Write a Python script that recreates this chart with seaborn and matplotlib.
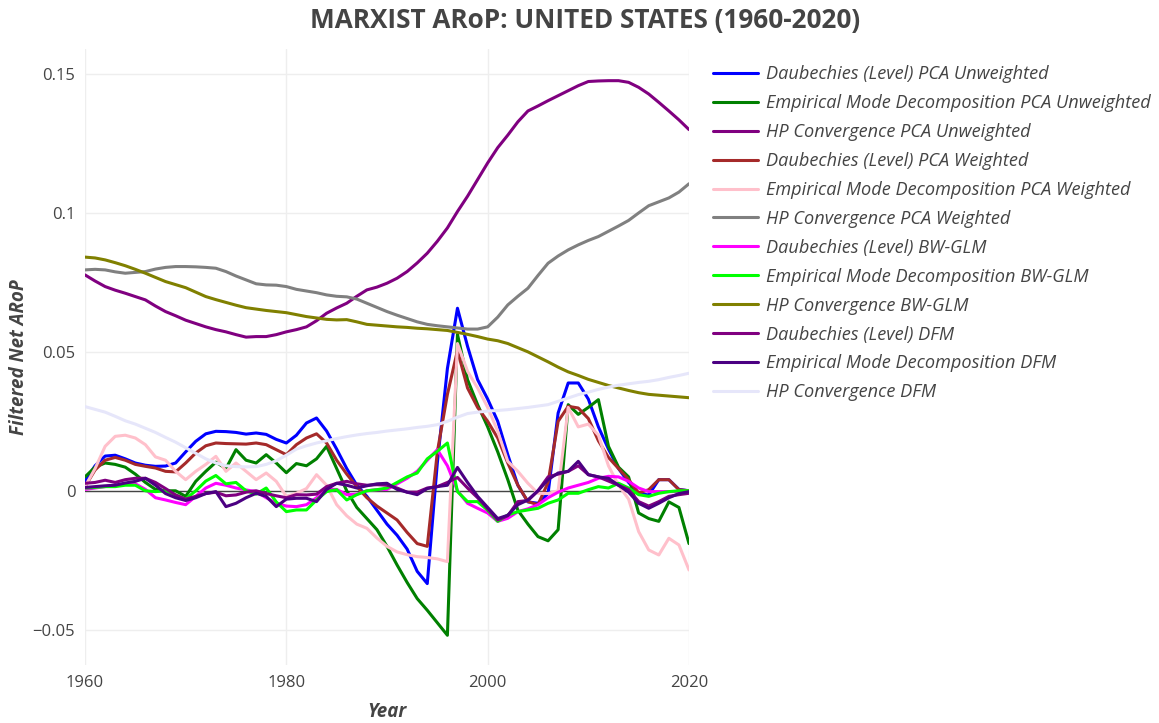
import matplotlib
matplotlib.use("Agg")
import matplotlib.pyplot as plt
import seaborn as sns
import pandas as pd

years = list(range(1960, 2021))

series_names = [
    'Daubechies (Level) PCA Unweighted',
    'Empirical Mode Decomposition PCA Unweighted',
    'HP Convergence PCA Unweighted',
    'Daubechies (Level) PCA Weighted',
    'Empirical Mode Decomposition PCA Weighted',
    'HP Convergence PCA Weighted',
    'Daubechies (Level) BW-GLM',
    'Empirical Mode Decomposition BW-GLM',
    'HP Convergence BW-GLM',
    'Daubechies (Level) DFM',
    'Empirical Mode Decomposition DFM',
    'HP Convergence DFM',
]
series_colors = ['#0000ff', '#008000', '#800080', '#a52a2a', '#ffc0cb', '#808080',
                 '#ff00ff', '#00ff00', '#808000', '#800080', '#4b0082', '#e6e6fa']

daub_pca_unw = [
    0.0035, 0.0090, 0.0125, 0.0128, 0.0115, 0.0100, 0.0092, 0.0088, 0.0089, 0.0100,
    0.0140, 0.0178, 0.0205, 0.0214, 0.0213, 0.0210, 0.0204, 0.0208, 0.0203, 0.0185,
    0.0172, 0.0200, 0.0244, 0.0262, 0.0215, 0.0150, 0.0080, 0.0020, -0.0020, -0.0070,
    -0.0120, -0.0160, -0.0210, -0.0290, -0.0334, 0.0100, 0.0440, 0.0657, 0.0520, 0.0400,
    0.0330, 0.0250, 0.0130, 0.0020, -0.0040, -0.0045, -0.0010, 0.0280, 0.0388, 0.0388,
    0.0330, 0.0230, 0.0150, 0.0080, 0.0030, -0.0010, -0.0015, 0.0040, 0.0040, 0.0005,
    0.0000,
]
emd_pca_unw = [
    0.0050, 0.0085, 0.0100, 0.0095, 0.0085, 0.0060, 0.0030, 0.0005, 0.0000, 0.0000,
    -0.0020, 0.0034, 0.0070, 0.0103, 0.0080, 0.0148, 0.0110, 0.0100, 0.0130, 0.0100,
    0.0065, 0.0098, 0.0090, 0.0115, 0.0160, 0.0080, 0.0000, -0.0060, -0.0100, -0.0140,
    -0.0200, -0.0267, -0.0330, -0.0388, -0.0430, -0.0475, -0.0520, 0.0563, 0.0400, 0.0310,
    0.0230, 0.0140, 0.0040, -0.0070, -0.0120, -0.0165, -0.0180, -0.0140, 0.0310, 0.0275,
    0.0300, 0.0328, 0.0160, 0.0085, 0.0050, -0.0080, -0.0100, -0.0110, -0.0040, -0.0060,
    -0.0190,
]
hp_pca_unw = [
    0.0777, 0.0755, 0.0735, 0.0722, 0.0711, 0.0699, 0.0687, 0.0665, 0.0645, 0.0630,
    0.0614, 0.0602, 0.0590, 0.0580, 0.0572, 0.0562, 0.0553, 0.0555, 0.0555, 0.0562,
    0.0572, 0.0580, 0.0590, 0.0612, 0.0639, 0.0658, 0.0675, 0.0700, 0.0723, 0.0733,
    0.0747, 0.0765, 0.0789, 0.0820, 0.0855, 0.0898, 0.0946, 0.1005, 0.1060, 0.1120,
    0.1180, 0.1235, 0.1280, 0.1328, 0.1367, 0.1385, 0.1404, 0.1422, 0.1440, 0.1458,
    0.1473, 0.1475, 0.1476, 0.1476, 0.1470, 0.1452, 0.1428, 0.1398, 0.1367, 0.1335,
    0.1300,
]
daub_pca_w = [
    0.0015, 0.0075, 0.0110, 0.0120, 0.0110, 0.0095, 0.0088, 0.0082, 0.0070, 0.0068,
    0.0100, 0.0136, 0.0162, 0.0172, 0.0170, 0.0169, 0.0168, 0.0172, 0.0166, 0.0148,
    0.0130, 0.0166, 0.0190, 0.0205, 0.0172, 0.0110, 0.0060, 0.0015, -0.0025, -0.0055,
    -0.0080, -0.0105, -0.0150, -0.0190, -0.0200, 0.0140, 0.0347, 0.0505, 0.0370, 0.0300,
    0.0250, 0.0190, 0.0100, 0.0020, -0.0039, -0.0050, 0.0030, 0.0250, 0.0304, 0.0298,
    0.0260, 0.0180, 0.0120, 0.0080, 0.0040, -0.0008, 0.0004, 0.0040, 0.0040, 0.0004,
    0.0000,
]
emd_pca_w = [
    0.0015, 0.0080, 0.0160, 0.0196, 0.0200, 0.0190, 0.0166, 0.0122, 0.0110, 0.0070,
    0.0040, 0.0070, 0.0095, 0.0124, 0.0070, 0.0100, 0.0070, 0.0040, 0.0064, 0.0034,
    -0.0020, -0.0009, 0.0008, 0.0058, 0.0020, -0.0050, -0.0090, -0.0120, -0.0135, -0.0170,
    -0.0200, -0.0220, -0.0230, -0.0237, -0.0240, -0.0245, -0.0255, 0.0530, 0.0430, 0.0370,
    0.0300, 0.0214, 0.0106, 0.0070, 0.0027, -0.0009, -0.0010, 0.0000, 0.0300, 0.0230,
    0.0240, 0.0200, 0.0090, 0.0020, -0.0030, -0.0147, -0.0213, -0.0231, -0.0171, -0.0195,
    -0.0285,
]
hp_pca_w = [
    0.0795, 0.0797, 0.0795, 0.0788, 0.0783, 0.0786, 0.0789, 0.0798, 0.0804, 0.0807,
    0.0807, 0.0806, 0.0804, 0.0801, 0.0789, 0.0773, 0.0759, 0.0745, 0.0741, 0.0740,
    0.0735, 0.0725, 0.0719, 0.0713, 0.0705, 0.0700, 0.0698, 0.0690, 0.0675, 0.0660,
    0.0645, 0.0632, 0.0620, 0.0608, 0.0599, 0.0594, 0.0590, 0.0586, 0.0582, 0.0582,
    0.0590, 0.0625, 0.0669, 0.0700, 0.0729, 0.0775, 0.0819, 0.0845, 0.0867, 0.0885,
    0.0901, 0.0915, 0.0934, 0.0953, 0.0973, 0.1000, 0.1026, 0.1040, 0.1054, 0.1075,
    0.1105,
]
daub_bwglm = [
    0.0005, 0.0010, 0.0015, 0.0020, 0.0025, 0.0025, 0.0005, -0.0025, -0.0033, -0.0042,
    -0.0050, -0.0020, 0.0010, 0.0027, 0.0020, 0.0010, 0.0003, -0.0003, -0.0025, -0.0045,
    -0.0055, -0.0057, -0.0050, -0.0025, 0.0005, 0.0005, -0.0014, -0.0012, 0.0000, 0.0004,
    0.0005, 0.0025, 0.0045, 0.0070, 0.0110, 0.0148, 0.0090, 0.0000, -0.0045, -0.0063,
    -0.0080, -0.0110, -0.0099, -0.0075, -0.0065, -0.0050, -0.0025, -0.0005, 0.0010, 0.0020,
    0.0030, 0.0045, 0.0052, 0.0050, 0.0034, 0.0010, -0.0003, -0.0003, -0.0003, -0.0003,
    -0.0003,
]
emd_bwglm = [
    0.0010, 0.0012, 0.0015, 0.0015, 0.0020, 0.0020, 0.0000, -0.0003, 0.0000, -0.0015,
    -0.0030, 0.0000, 0.0035, 0.0055, 0.0025, 0.0030, 0.0000, -0.0012, 0.0010, -0.0040,
    -0.0075, -0.0069, -0.0069, -0.0033, -0.0003, 0.0004, -0.0033, -0.0014, 0.0000, 0.0004,
    0.0010, 0.0030, 0.0050, 0.0064, 0.0115, 0.0142, 0.0172, -0.0003, -0.0039, -0.0039,
    -0.0070, -0.0110, -0.0087, -0.0075, -0.0069, -0.0063, -0.0045, -0.0033, -0.0009, -0.0009,
    0.0004, 0.0015, 0.0010, 0.0027, 0.0010, -0.0014, -0.0020, -0.0009, -0.0003, 0.0000,
    0.0000,
]
hp_bwglm = [
    0.0841, 0.0838, 0.0831, 0.0821, 0.0810, 0.0797, 0.0783, 0.0768, 0.0753, 0.0742,
    0.0731, 0.0715, 0.0699, 0.0688, 0.0678, 0.0668, 0.0659, 0.0654, 0.0649, 0.0645,
    0.0641, 0.0634, 0.0627, 0.0622, 0.0617, 0.0615, 0.0616, 0.0608, 0.0599, 0.0596,
    0.0593, 0.0590, 0.0588, 0.0585, 0.0583, 0.0580, 0.0577, 0.0570, 0.0563, 0.0555,
    0.0546, 0.0540, 0.0530, 0.0515, 0.0500, 0.0482, 0.0464, 0.0445, 0.0428, 0.0415,
    0.0401, 0.0390, 0.0379, 0.0370, 0.0361, 0.0353, 0.0347, 0.0344, 0.0341, 0.0338,
    0.0335,
]
daub_dfm = [
    0.0027, 0.0030, 0.0038, 0.0030, 0.0040, 0.0045, 0.0045, 0.0030, 0.0008, -0.0015,
    -0.0030, -0.0020, -0.0010, -0.0005, -0.0018, -0.0015, -0.0005, 0.0000, -0.0010, -0.0018,
    -0.0025, -0.0014, -0.0015, -0.0012, 0.0015, 0.0027, 0.0034, 0.0025, 0.0020, 0.0022,
    0.0020, 0.0010, -0.0005, -0.0005, 0.0010, 0.0015, 0.0030, 0.0048, 0.0010, -0.0025,
    -0.0065, -0.0105, -0.0090, -0.0039, -0.0035, 0.0000, 0.0050, 0.0060, 0.0070, 0.0090,
    0.0058, 0.0050, 0.0035, 0.0020, 0.0004, -0.0039, -0.0055, -0.0039, -0.0020, -0.0014,
    -0.0009,
]
emd_dfm = [
    0.0012, 0.0015, 0.0018, 0.0020, 0.0028, 0.0034, 0.0045, 0.0020, -0.0010, -0.0025,
    -0.0035, -0.0025, -0.0010, -0.0003, -0.0057, -0.0045, -0.0025, -0.0009, -0.0020, -0.0057,
    -0.0030, -0.0027, -0.0027, -0.0039, 0.0005, 0.0027, 0.0020, 0.0010, 0.0018, 0.0025,
    0.0027, 0.0005, -0.0005, -0.0014, 0.0008, 0.0015, 0.0020, 0.0084, 0.0030, -0.0020,
    -0.0060, -0.0100, -0.0088, -0.0050, -0.0033, 0.0000, 0.0040, 0.0064, 0.0070, 0.0106,
    0.0058, 0.0050, 0.0045, 0.0020, -0.0005, -0.0045, -0.0063, -0.0045, -0.0025, -0.0010,
    -0.0003,
]
hp_dfm = [
    0.0303, 0.0293, 0.0283, 0.0268, 0.0252, 0.0240, 0.0225, 0.0210, 0.0192, 0.0175,
    0.0155, 0.0135, 0.0115, 0.0100, 0.0090, 0.0087, 0.0086, 0.0087, 0.0095, 0.0108,
    0.0128, 0.0150, 0.0162, 0.0172, 0.0180, 0.0188, 0.0195, 0.0201, 0.0206, 0.0210,
    0.0215, 0.0219, 0.0223, 0.0228, 0.0232, 0.0238, 0.0250, 0.0265, 0.0278, 0.0283,
    0.0287, 0.0289, 0.0292, 0.0296, 0.0300, 0.0305, 0.0310, 0.0322, 0.0334, 0.0346,
    0.0355, 0.0365, 0.0373, 0.0380, 0.0385, 0.0390, 0.0394, 0.0400, 0.0408, 0.0415,
    0.0423,
]

all_values = [daub_pca_unw, emd_pca_unw, hp_pca_unw, daub_pca_w, emd_pca_w, hp_pca_w,
              daub_bwglm, emd_bwglm, hp_bwglm, daub_dfm, emd_dfm, hp_dfm]

frames = []
for name, vals in zip(series_names, all_values):
    frames.append(pd.DataFrame({'Year': years, 'value': vals, 'series': name}))
df = pd.concat(frames, ignore_index=True)

sns.set_theme(style='white')
plt.rcParams['font.family'] = ['Open Sans', 'DejaVu Sans']

txt = '#444444'
fig = plt.figure(figsize=(11.59, 7.23), dpi=100)
ax = fig.add_axes([85 / 1159, 1 - 665 / 723, 604 / 1159, 616 / 723])

ax.axhline(0, color=txt, lw=1.0, zorder=1)
sns.lineplot(data=df, x='Year', y='value', hue='series', hue_order=series_names,
             palette=dict(zip(series_names, series_colors)), lw=2.2, ax=ax, zorder=3,
             legend=True)

ax.set_xlim(1960, 2020)
ax.set_ylim(-0.0627, 0.159)
ax.set_xticks([1960, 1980, 2000, 2020])
ax.set_yticks([-0.05, 0, 0.05, 0.1, 0.15])
ax.set_yticklabels(['\u22120.05', '0', '0.05', '0.1', '0.15'])
ax.grid(True, color='#eeeeee', lw=1.0, zorder=0)
ax.set_axisbelow(True)
for s in ax.spines.values():
    s.set_visible(False)
ax.tick_params(length=0, labelsize=12, colors=txt, pad=7)

ax.set_xlabel('Year', fontsize=13.5, fontweight='bold', style='italic', color=txt)
ax.set_ylabel('Filtered Net ARoP', fontsize=13.5, fontweight='bold', style='italic', color=txt)
ax.xaxis.set_label_coords(0.5, -0.06)
ax.yaxis.set_label_coords(-0.092, 0.5)

fig.suptitle('MARXIST ARoP: UNITED STATES (1960-2020)', x=0.505, y=0.99, fontsize=18.8,
             fontweight='bold', color=txt)

handles, labels = ax.get_legend_handles_labels()
ax.legend(handles, labels, loc='upper left', bbox_to_anchor=(706 / 1159, 1 - 58 / 723),
          bbox_transform=fig.transFigure, frameon=False, prop={'style': 'italic', 'size': 13.1},
          labelcolor=txt, handlelength=2.46, labelspacing=0.6, handletextpad=0.44,
          borderaxespad=0)

fig.savefig('out.png', dpi=100)
